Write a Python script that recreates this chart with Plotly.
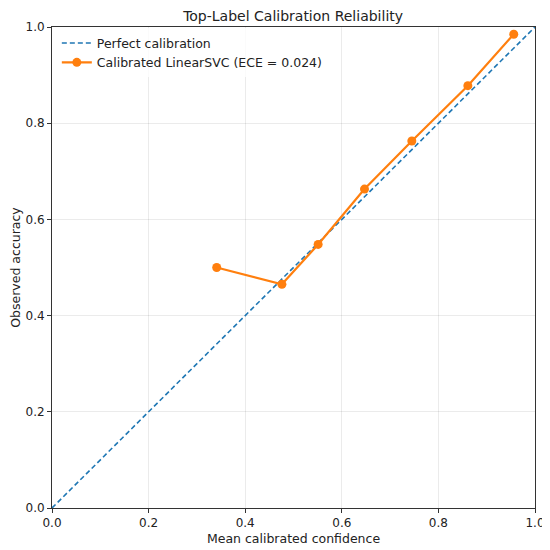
import plotly.graph_objects as go

# reliability curve (bin mean confidence vs observed accuracy)
mean_conf = [0.341, 0.476, 0.551, 0.647, 0.745, 0.861, 0.956]
obs_acc = [0.500, 0.465, 0.548, 0.663, 0.763, 0.878, 0.985]
diag = [0.0, 1.0]
ticks = [0.0, 0.2, 0.4, 0.6, 0.8, 1.0]
tick_text = ['0.0', '0.2', '0.4', '0.6', '0.8', '1.0']

fig = go.Figure()
fig.add_scatter(x=diag, y=diag, mode='lines', name='Perfect calibration',
                line=dict(color='#1f77b4', dash='5px,3px', width=1.6))
fig.add_scatter(x=mean_conf, y=obs_acc, mode='lines+markers',
                name='Calibrated LinearSVC (ECE = 0.024)',
                line=dict(color='#ff7f0e', width=2.2),
                marker=dict(color='#ff7f0e', size=9))

axis = dict(range=[0, 1], tickvals=ticks, ticktext=tick_text,
            ticks='outside', ticklen=4, tickwidth=1, tickcolor='#333',
            showline=True, linecolor='#333', linewidth=1, mirror=True,
            showgrid=True, gridcolor='rgba(0,0,0,0.08)', gridwidth=1,
            zeroline=False, automargin=False, tickfont=dict(size=12, color='#222'))

# page body adds ~8px offset, so the figure is a bit smaller than the window
fig.update_layout(
    width=542, height=542,
    margin=dict(l=44, r=15, t=19, b=42),
    paper_bgcolor='white', plot_bgcolor='white',
    font=dict(family='DejaVu Sans', color='#222'),
    title=dict(text='Top-Label Calibration Reliability', x=0.526, xanchor='center',
               y=0.986, yanchor='middle', font=dict(size=14), automargin=False),
    xaxis=dict(axis, title=dict(text='Mean calibrated confidence', font=dict(size=12.5), standoff=4)),
    yaxis=dict(axis, title=dict(text='Observed accuracy', font=dict(size=12.5), standoff=6)),
    legend=dict(x=0.01, y=0.997, xanchor='left', yanchor='top', tracegroupgap=0,
                bgcolor='rgba(255,255,255,0.8)', font=dict(size=12.5)),
    showlegend=True,
)

fig.write_html("out.html")
